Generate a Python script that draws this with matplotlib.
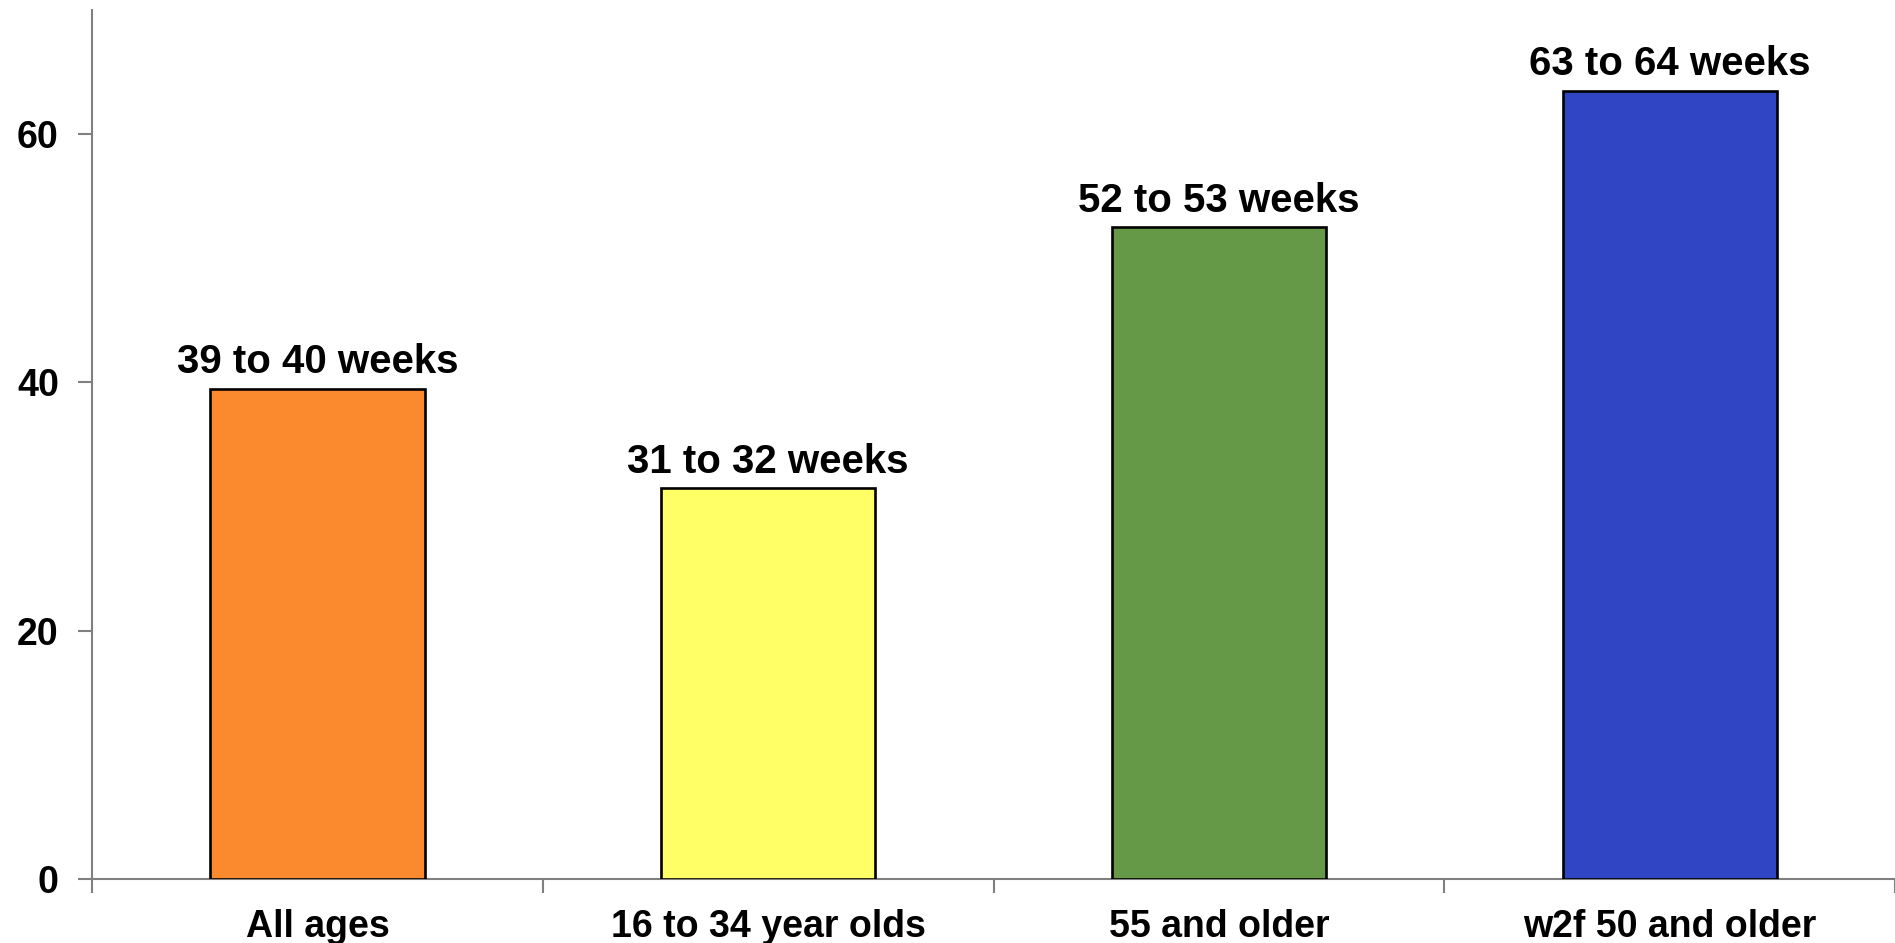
import matplotlib.pyplot as plt
import numpy as np

plt.rcParams['font.family'] = ['Liberation Sans', 'DejaVu Sans']
plt.rcParams['font.weight'] = 'bold'

groups = ["All ages", "16 to 34 year olds", "55 and older", "w2f 50 and older"]
weeks = [39.5, 31.5, 52.5, 63.5]
labels = ["39 to 40 weeks", "31 to 32 weeks", "52 to 53 weeks", "63 to 64 weeks"]
colours = ["#FB8A2F", "#FFFF66", "#659847", "#3045C4"]

fig = plt.figure(figsize=(18.95, 9.43), dpi=100)
ax = fig.add_axes([0.0486, 0.068, 0.9514, 0.9214])

x = np.arange(len(groups))
bars = ax.bar(x, weeks, width=0.475, color=colours, edgecolor="black", linewidth=1.9, zorder=3)

for b, lab in zip(bars, labels):
    ax.annotate(lab, (b.get_x() + b.get_width() / 2, b.get_height()),
                xytext=(0, 11), textcoords="offset points",
                ha="center", va="baseline", fontsize=29, fontweight="bold")

ax.set_xlim(-0.5, len(groups) - 0.5)
ax.set_ylim(0, 70)
ax.set_yticks([0, 20, 40, 60])

# ticks between categories, labels at centres
ax.set_xticks(np.arange(-0.5, len(groups) + 0.5, 1))
ax.set_xticklabels([])
ax.set_xticks(x, minor=True)
ax.set_xticklabels(groups, minor=True)
ax.tick_params(axis="x", which="minor", length=0, pad=22, labelsize=27)
ax.tick_params(axis="x", which="major", length=10, width=1.5, color="#808080")
ax.tick_params(axis="y", length=10, width=1.5, color="#808080", pad=14, labelsize=27)

for side in ["top", "right"]:
    ax.spines[side].set_visible(False)
for side in ["left", "bottom"]:
    ax.spines[side].set_color("#808080")
    ax.spines[side].set_linewidth(1.5)

for t in ax.get_yticklabels() + ax.get_xticklabels(minor=True):
    t.set_fontweight("bold")

fig.savefig("out.png", dpi=100)
